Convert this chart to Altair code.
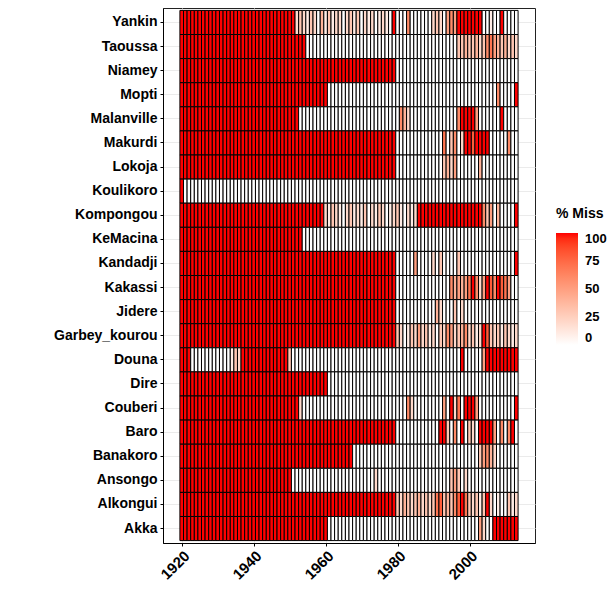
import altair as alt
import pandas as pd

# Years covered by the record (one cell per year)
years = list(range(1920, 2014))

# Stations, top to bottom as drawn
stations = ["Yankin", "Taoussa", "Niamey", "Mopti", "Malanville", "Makurdi",
            "Lokoja", "Koulikoro", "Kompongou", "KeMacina", "Kandadji",
            "Kakassi", "Jidere", "Garbey_kourou", "Douna", "Dire", "Couberi",
            "Baro", "Banakoro", "Ansongo", "Alkongui", "Akka"]

# % missing per year, one char per year (grouped by decade):
# '0'..'9' = 0..90 %, 'X' = 100 %
yankin     = "XXXXXXXXXX XXXXXXXXXX XXXXXXXXXX XX23213204 1312202313 021201210X 0006000000 2320565XXX XXXX00100X 0000"
taoussa    = "XXXXXXXXXX XXXXXXXXXX XXXXXXXXXX XXXXX00000 0000000000 0000000000 0000000000 0000000334 3342367543 4232"
niamey     = "XXXXXXXXXX XXXXXXXXXX XXXXXXXXXX XXXXXXXXXX XXXXXXXXXX XXXXXXXXXX 0000000000 0000000000 0000000000 0000"
mopti      = "XXXXXXXXXX XXXXXXXXXX XXXXXXXXXX XXXXXXXXXX X000000000 0000000000 0000000000 0000000000 0000000060 000X"
malanville = "XXXXXXXXXX XXXXXXXXXX XXXXXXXXXX XXX0000000 0000000000 0000000000 0642000000 00000006XX XX5000000X 0000"
makurdi    = "XXXXXXXXXX XXXXXXXXXX XXXXXXXXXX XXXXXXXXXX XXXXXXXXXX XXXXXXXXXX 0000000000 000703602X X8XXXX0000 0600"
lokoja     = "XXXXXXXXXX XXXXXXXXXX XXXXXXXXXX XXXXXXXXXX XXXXXXXXXX XXXXXXXXXX 0000000000 0003425000 0004000000 0000"
koulikoro  = "X000000000 0000000000 0000000000 0000000000 0000000000 0000000000 0000000000 0000000000 0000000000 0000"
kompongou  = "XXXXXXXXXX XXXXXXXXXX XXXXXXXXXX XXXXXXXXXX 2132102312 1302132012 310212XXXX XXXXXXXXXX XXXX635040 000X"
kemacina   = "XXXXXXXXXX XXXXXXXXXX XXXXXXXXXX XXXX000000 0000000000 0000000000 0000000000 0000000000 0000000000 0000"
kandadji   = "XXXXXXXXXX XXXXXXXXXX XXXXXXXXXX XXXXXXXXXX XXXXXXXXXX XXXXXXXXXX 0000050000 2030000300 0000000000 000X"
kakassi    = "XXXXXXXXXX XXXXXXXXXX XXXXXXXXXX XXXXXXXXXX XXXXXXXXXX XXXXXXXXXX 0000000000 0000064545 7X625X86X8 7500"
jidere     = "XXXXXXXXXX XXXXXXXXXX XXXXXXXXXX XXXXXXXXXX XXXXXXXXXX XXXXXXXXXX 0000000000 0420003020 0000000000 0000"
garbey     = "XXXXXXXXXX XXXXXXXXXX XXXXXXXXXX XXXXXXXXXX XXXXXXXXXX XXXXXXXXXX 3201325231 2032652346 2312X83231 3212"
douna      = "XXX0000000 0000132XXX XXXXXXXXXX 3000000000 0000000000 0000000000 0000000000 00000000X0 00005XXXXX XXXX"
dire       = "XXXXXXXXXX XXXXXXXXXX XXXXXXXXXX XXXXXXXXXX X000000000 0000000000 0000000000 0000000000 0000000000 0000"
couberi    = "XXXXXXXXXX XXXXXXXXXX XXXXXXXXXX XXX2000000 0000000000 0000000000 0006200000 00050X270X XX50000000 000X"
baro       = "XXXXXXXXXX XXXXXXXXXX XXXXXXXXXX XXXXXXXXXX XXXXXXXXXX XXXXXXXXXX 0000000000 00XX3060X0 320XXXX506 06X0"
banakoro   = "XXXXXXXXXX XXXXXXXXXX XXXXXXXXXX XXXXXXXXXX XXXXXXXX00 0000000000 0000000000 0000000000 0003564200 0000"
ansongo    = "XXXXXXXXXX XXXXXXXXXX XXXXXXXXXX X000000000 0000000000 0000200000 0000000000 0000035302 0000000000 0000"
alkongui   = "XXXXXXXXXX XXXXXXXXXX XXXXXXXXXX XXXXXXXXXX XXXXXXXXXX XXXXXXXXXX 3243234232 37834368X7 32313X2010 0312"
akka       = "XXXXXXXXXX XXXXXXXXXX XXXXXXXXXX XXXXXXXXXX X000000000 0000000000 0000000000 0000000000 0005200XXX XXXX"

series = [yankin, taoussa, niamey, mopti, malanville, makurdi, lokoja,
          koulikoro, kompongou, kemacina, kandadji, kakassi, jidere, garbey,
          douna, dire, couberi, baro, banakoro, ansongo, alkongui, akka]

rows = []
for name, codes in zip(stations, series):
    codes = codes.replace(" ", "")
    assert len(codes) == len(years), (name, len(codes))
    for yr, c in zip(years, codes):
        rows.append({"station": name, "year": yr,
                     "miss": 100 if c == "X" else int(c) * 10})
df = pd.DataFrame(rows)

FONT = "Liberation Sans"

chart = alt.Chart(df).transform_calculate(
    x0="datum.year - 0.5", x1="datum.year + 0.5"
).mark_rect(stroke="black", strokeWidth=1.0).encode(
    x=alt.X("x0:Q",
            scale=alt.Scale(domain=[1914.8, 2018.2], nice=False, zero=False),
            axis=alt.Axis(values=[1920, 1940, 1960, 1980, 2000], format="d",
                          title=None, labelAngle=-45, labelAlign="right",
                          labelBaseline="top", labelFontSize=15,
                          labelFontWeight="bold", labelColor="black",
                          labelPadding=2, tickSize=3, tickColor="black",
                          domainColor="black", grid=True, gridColor="#EBEBEB",
                          zindex=0)),
    x2="x1:Q",
    y=alt.Y("station:N", sort=stations,
            scale=alt.Scale(paddingInner=0, paddingOuter=0.1),
            axis=alt.Axis(title=None, labelFontSize=14, labelFontWeight="bold",
                          labelColor="black", labelPadding=3, tickSize=3,
                          tickColor="black", domainColor="black",
                          grid=True, gridColor="#EBEBEB", zindex=0)),
    color=alt.Color("miss:Q",
                    scale=alt.Scale(domain=[0, 100], range=["white", "red"],
                                    interpolate="lab"),
                    legend=alt.Legend(title="% Miss", orient="none",
                                      legendX=393, legendY=199,
                                      direction="vertical",
                                      gradientLength=112, gradientThickness=22,
                                      gradientStrokeWidth=0,
                                      values=[0, 25, 50, 75, 100],
                                      titleFontSize=14, titleFontWeight="bold",
                                      titleColor="black", titlePadding=12,
                                      labelFontSize=13, labelFontWeight="bold",
                                      labelColor="black", labelOffset=7,
                                      labelBaseline="middle")),
).properties(
    width=372, height=535,
    autosize=alt.AutoSizeParams(type="none"),
    padding={"left": 155, "top": 0, "right": 72, "bottom": 41},
).configure(font=FONT).configure_view(stroke="#222222", strokeWidth=1)

chart.save("out.html", embed_options={"renderer": "svg", "actions": False})
